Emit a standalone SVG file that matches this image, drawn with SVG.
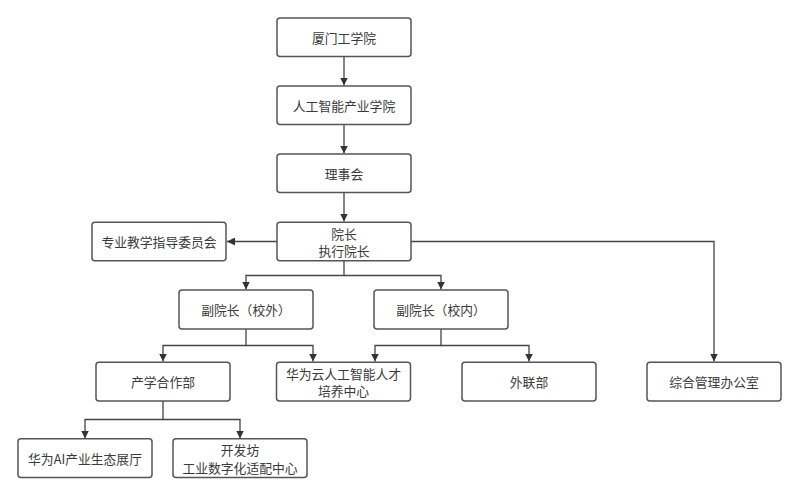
<svg xmlns="http://www.w3.org/2000/svg" width="799" height="496" viewBox="0 0 799 496">
<defs>
<style>
.box{fill:#ffffff;stroke:#555555;stroke-width:1.5}
.t{font-family:"Noto Sans CJK SC","Liberation Sans",sans-serif;font-size:12.8px;fill:#3a3a3a;text-anchor:middle;dominant-baseline:central}
.c{fill:none;stroke:#444444;stroke-width:1.3}
</style>
<marker id="a" viewBox="0 0 10 10" refX="10" refY="5" markerWidth="8" markerHeight="8" markerUnits="userSpaceOnUse" orient="auto">
<path d="M0,0 L10,5 L0,10 z" fill="#333333"/>
</marker>
</defs>
<rect width="799" height="496" fill="#ffffff"/>
<g id="connectors">
<path class="c" d="M344,56.5 V85.5" marker-end="url(#a)"/>
<path class="c" d="M344,124.5 V153.5" marker-end="url(#a)"/>
<path class="c" d="M344,192.5 V221.5" marker-end="url(#a)"/>
<path class="c" d="M277,241.5 H227" marker-end="url(#a)"/>
<path class="c" d="M411,241.5 H714 V361.5" marker-end="url(#a)"/>
<path class="c" d="M344,261 V275.5 H246 V289.5" marker-end="url(#a)"/>
<path class="c" d="M344,275.5 H441 V289.5" marker-end="url(#a)"/>
<path class="c" d="M246,329 V345.5 H163 V361.5" marker-end="url(#a)"/>
<path class="c" d="M246,345.5 H313 V361.5" marker-end="url(#a)"/>
<path class="c" d="M441,329 V345.5 H375 V361.5" marker-end="url(#a)"/>
<path class="c" d="M441,345.5 H529 V361.5" marker-end="url(#a)"/>
<path class="c" d="M163,401 V419.5 H85 V438.5" marker-end="url(#a)"/>
<path class="c" d="M163,419.5 H240 V438.5" marker-end="url(#a)"/>
</g>
<g id="n1"><rect class="box" x="277" y="18" width="134" height="38.5" rx="3"/><text class="t" x="344" y="37.5">厦门工学院</text></g>
<g id="n2"><rect class="box" x="277" y="86" width="134" height="38.5" rx="3"/><text class="t" x="344" y="105.5">人工智能产业学院</text></g>
<g id="n3"><rect class="box" x="277" y="154" width="134" height="38.5" rx="3"/><text class="t" x="344" y="173.5">理事会</text></g>
<g id="n4"><rect class="box" x="277" y="222.3" width="134" height="38.5" rx="3"/><text class="t" x="344" y="233">院长</text><text class="t" x="344" y="250.5">执行院长</text></g>
<g id="n5"><rect class="box" x="92" y="222.3" width="134" height="38.5" rx="3"/><text class="t" x="159" y="241.5">专业教学指导委员会</text></g>
<g id="n6"><rect class="box" x="179" y="290" width="134" height="39" rx="3"/><text class="t" x="246" y="309.5">副院长（校外）</text></g>
<g id="n7"><rect class="box" x="374" y="290" width="134" height="39" rx="3"/><text class="t" x="441" y="309.5">副院长（校内）</text></g>
<g id="n8"><rect class="box" x="96" y="362.3" width="134" height="38.7" rx="3"/><text class="t" x="163" y="381.5">产学合作部</text></g>
<g id="n9"><rect class="box" x="276.5" y="362.3" width="134" height="38.7" rx="3"/><text class="t" x="343.5" y="373">华为云人工智能人才</text><text class="t" x="343.5" y="390.5">培养中心</text></g>
<g id="n10"><rect class="box" x="462" y="362.3" width="134" height="38.7" rx="3"/><text class="t" x="529" y="381.5">外联部</text></g>
<g id="n11"><rect class="box" x="647" y="362.3" width="134" height="38.7" rx="3"/><text class="t" x="714" y="381.5">综合管理办公室</text></g>
<g id="n12"><rect class="box" x="18" y="438.7" width="134" height="38.7" rx="3"/><text class="t" x="85" y="458">华为AI产业生态展厅</text></g>
<g id="n13"><rect class="box" x="173" y="438.7" width="134" height="38.7" rx="3"/><text class="t" x="240" y="449.5">开发坊</text><text class="t" x="240" y="467">工业数字化适配中心</text></g>
</svg>
